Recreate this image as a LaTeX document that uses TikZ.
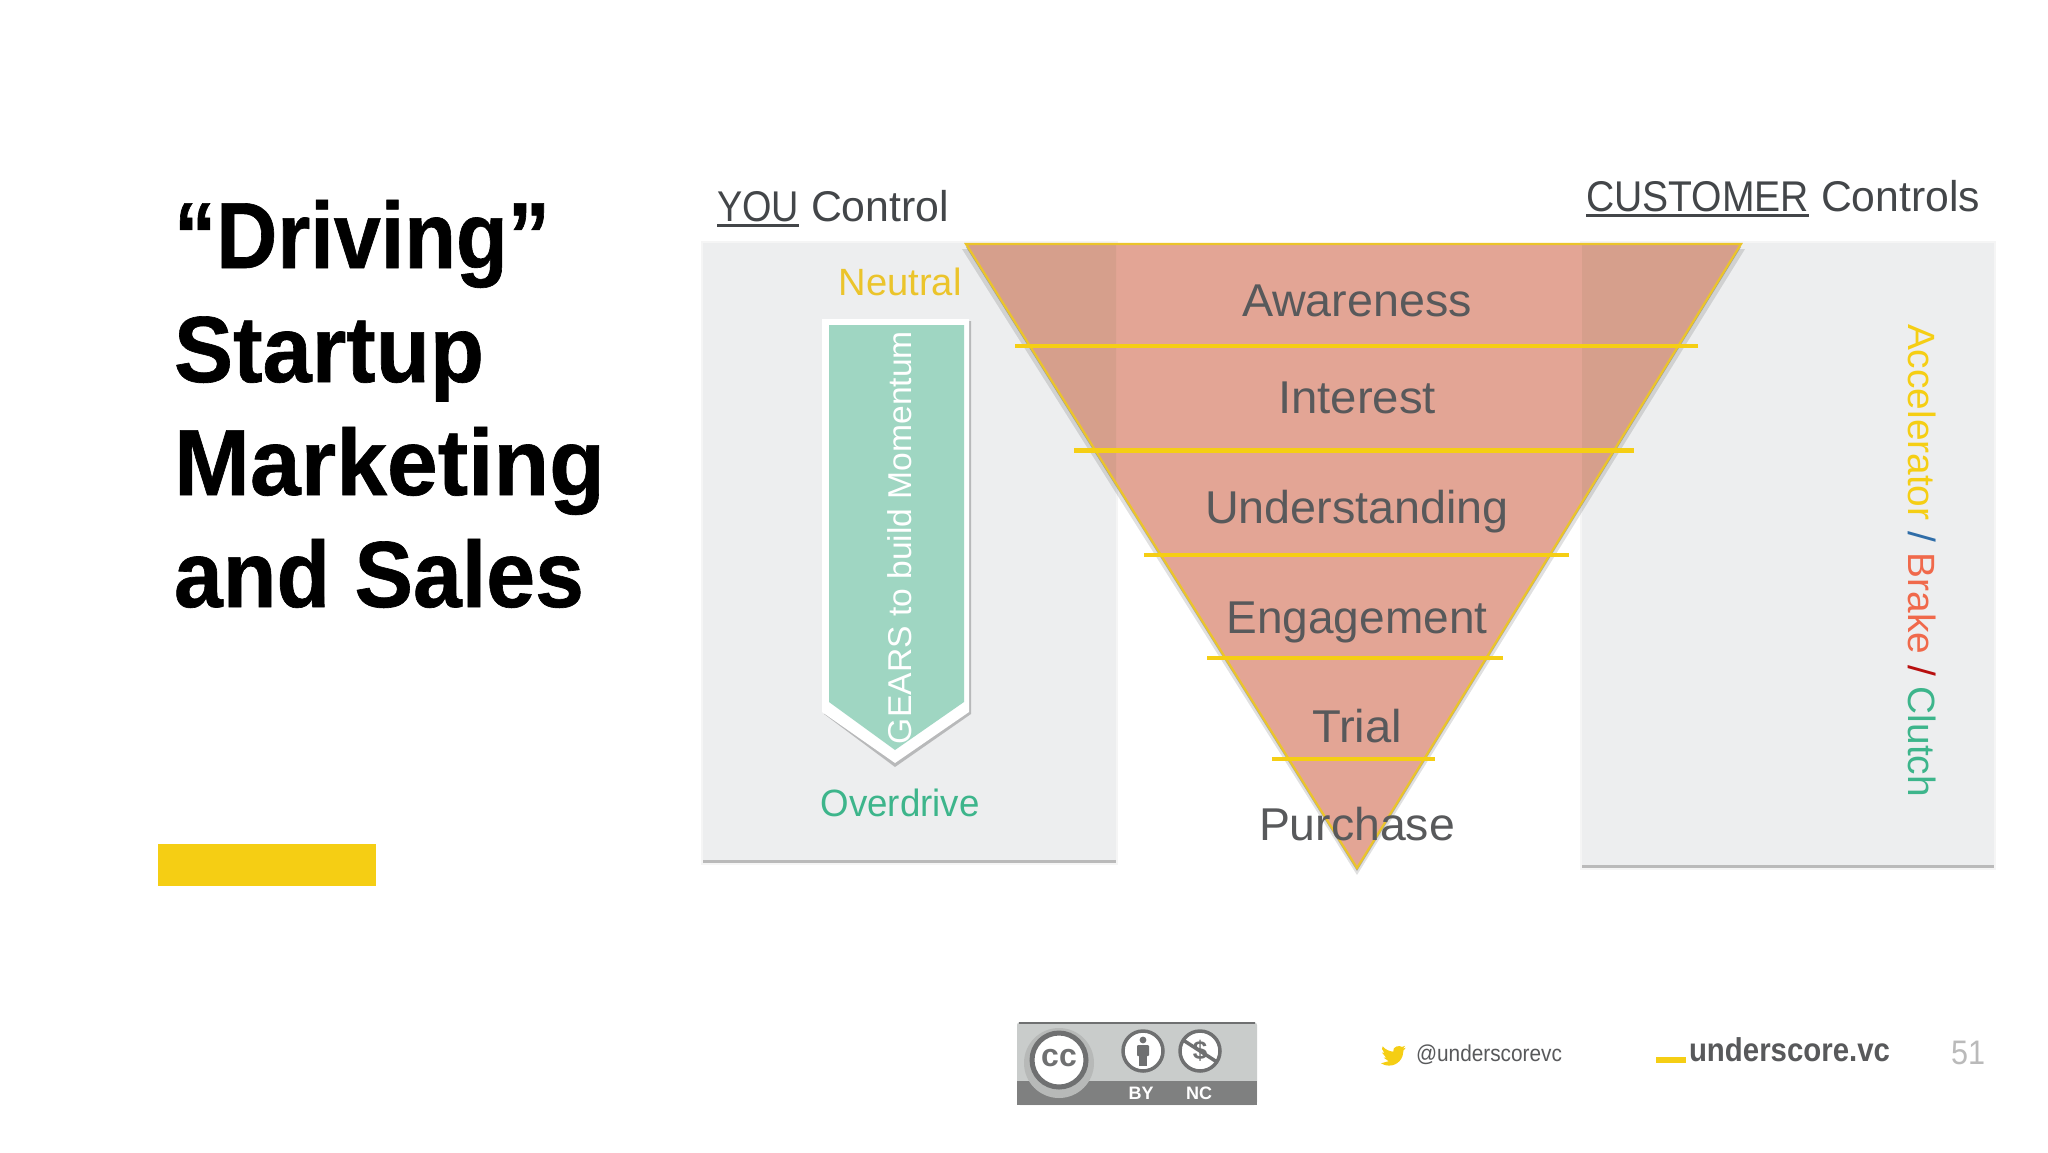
\documentclass[tikz,border=0pt]{standalone}
\usepackage{fontspec}
\usepackage{graphicx}
\setmainfont{Liberation Sans}
\newfontfamily\titlefont[UprightFont={* Bold},UprightFeatures={FakeBold=0.7}]{Liberation Sans}
\usetikzlibrary{calc}
\definecolor{panelc}{HTML}{EDEEEF}
\definecolor{funnelc}{HTML}{E3A595}
\definecolor{funneld}{HTML}{D69F8C}
\definecolor{goldc}{HTML}{F5CE14}
\definecolor{edgec}{HTML}{EBC42B}
\definecolor{tealc}{HTML}{9FD6C2}
\definecolor{greenc}{HTML}{3DB58B}
\definecolor{textc}{HTML}{58595B}
\definecolor{headc}{HTML}{434649}
\definecolor{brakec}{HTML}{F0694B}
\definecolor{slashb}{HTML}{2F6DA8}
\definecolor{slashr}{HTML}{B80F0F}
\definecolor{ccband}{HTML}{7F8080}
\definecolor{ccbody}{HTML}{C9CCCB}
\definecolor{ccdark}{HTML}{6F7071}
\newsavebox\ulbox
\newcommand{\ulword}[1]{\sbox\ulbox{#1}\rlap{\rule[-6pt]{\wd\ulbox}{2.6pt}}\usebox\ulbox}
\newcommand{\fitw}[2]{\resizebox{#1pt}{\height}{#2}}
\tikzset{
  txt/.style={inner sep=0pt,outer sep=0pt},
  stage/.style={txt,text=textc,font=\fontsize{46}{54}\selectfont,anchor=base},
  titleline/.style={txt,anchor=base west,font=\fontsize{94}{113}\titlefont,text=black},
  head/.style={txt,anchor=base west,text=headc,font=\fontsize{43}{52}\selectfont},
  level/.style={line width=4.5pt,draw=goldc},
  panelbox/.style={fill=panelc,draw=none},
  softshadow/.style={fill=black,opacity=#1,draw=none},
  ccring/.style={draw=ccdark,line width=3.5pt,fill=white},
  cctext/.style={txt,text=white,font=\fontsize{18}{20}\selectfont\bfseries}
}
\begin{document}
\begin{tikzpicture}[x=1pt,y=-1pt]
\useasboundingbox (0,0) rectangle (2048,1152);
\fill[white] (0,0) rectangle (2048,1152);

% title
\node[titleline] (t1) at (174,268) {\fitw{376}{“Driving”}};
\node[titleline] (t2) at (174,382) {\fitw{310}{Startup}};
\node[titleline] (t3) at (174,495) {\fitw{431}{Marketing}};
\node[titleline] (t4) at (174,607) {\fitw{410}{and Sales}};
\fill[goldc] (158,844) rectangle (376,886);

% panels
\fill[softshadow=.04] (701,241) rectangle (1118,865);
\fill[softshadow=.24] (703,245) rectangle (1116,862.5);
\fill[panelbox] (703,243) rectangle (1116,860);
\fill[softshadow=.04] (1580,241) rectangle (1996,870);
\fill[softshadow=.24] (1582,245) rectangle (1994,867.5);
\fill[panelbox] (1582,243) rectangle (1994,865);

% headings
\node[head] (you) at (717,221) {\fitw{82}{\ulword{YOU}}\hspace{12pt}\fitw{138}{Control}};
\node[head] (cust) at (1586,211) {\fitw{223}{\ulword{CUSTOMER}}\hspace{12pt}\fitw{159}{Controls}};

% funnel
\fill[black,opacity=.12] (962,249) -- (1745,249) -- (1357,875) -- cycle;
\fill[black,opacity=.25] (966,247) -- (1741,247) -- (1357,871) -- cycle;
\fill[funnelc] (966,244) -- (1741,244) -- (1357,868) -- cycle;
\begin{scope}
  \clip (703,243) rectangle (1116,860);
  \fill[funneld] (966,244) -- (1741,244) -- (1357,868) -- cycle;
\end{scope}
\begin{scope}
  \clip (1582,243) rectangle (1994,865);
  \fill[funneld] (966,244) -- (1741,244) -- (1357,868) -- cycle;
\end{scope}
\draw[edgec,line width=2.2pt,line join=miter] (966,244) -- (1741,244) -- (1357,868) -- cycle;

% funnel levels
\draw[level] (1015,346) -- (1698,346);
\draw[level] (1074,450.5) -- (1634,450.5);
\draw[level] (1144,555) -- (1569,555);
\draw[level] (1207,658) -- (1503,658);
\draw[level] (1272,759) -- (1435,759);

\node[stage] (s1) at (1357,316.5) {\fitw{230}{Awareness}};
\node[stage] (s2) at (1357,413.5) {\fitw{158}{Interest}};
\node[stage] (s3) at (1357,523) {\fitw{304}{Understanding}};
\node[stage] (s4) at (1357,633) {\fitw{261}{Engagement}};
\node[stage] (s5) at (1357,742.5) {\fitw{90}{Trial}};
\node[stage] (s6) at (1357,840.5) {\fitw{196}{Purchase}};

% gears arrow
\fill[black,opacity=.22] (824,321) -- (971,321) -- (971,714) -- (895,767) -- (824,714) -- cycle;
\fill[white] (822,319) -- (969,319) -- (969,712) -- (895,763) -- (822,712) -- cycle;
\fill[tealc] (829,325) -- (964,325) -- (964,702) -- (895,750) -- (829,702) -- cycle;
\node[txt,rotate=90,anchor=west,text=white,font=\fontsize{33}{36}\selectfont] (gears) at (900,744) {\fitw{413}{GEARS to build Momentum}};
\node[txt,text=edgec,font=\fontsize{38}{44}\selectfont] (neutral) at (900,282) {\fitw{123}{Neutral}};
\node[txt,text=greenc,font=\fontsize{38}{44}\selectfont] (over) at (900,803) {\fitw{159}{Overdrive}};

% right label
\node[txt,rotate=-90,anchor=base west,font=\fontsize{38}{44}\selectfont] (pedals) at (1908,324) {\fitw{473}{\textcolor{goldc}{Accelerator} \textcolor{slashb}{/} \textcolor{brakec}{Brake} \textcolor{slashr}{/} \textcolor{greenc}{Clutch}}};

% cc badge
\fill[ccbody,rounded corners=3pt] (1017,1022) rectangle (1257,1105);
\draw[ccdark,line width=1.5pt] (1019,1023) -- (1255,1023);
\fill[ccband] (1017,1081) rectangle (1257,1105);
\fill[ccbody!75!ccband] (1059,1063) circle (35);
\node[circle,ccring,minimum size=54pt,inner sep=0pt,line width=5pt] (cc) at (1059,1060) {};
\node[txt,text=ccdark,font=\fontsize{32}{34}\selectfont\bfseries] (cct) at (1059,1058) {cc};
\node[circle,ccring,minimum size=40pt,inner sep=0pt] (by) at (1143,1051) {};
\fill[ccdark] (1143,1040) circle (3.4);
\fill[ccdark,rounded corners=1pt] (1137,1045) rectangle (1149,1056);
\fill[ccdark] (1139,1055) rectangle (1147,1066);
\node[circle,ccring,minimum size=40pt,inner sep=0pt] (nc) at (1200,1051) {};
\node[txt,text=ccdark,font=\fontsize{26}{30}\selectfont\bfseries] (dollar) at (1200,1051) {\$};
\draw[ccdark,line width=3.5pt] (1183,1040) -- (1217,1062);
\node[cctext] (byt) at (1141,1093) {BY};
\node[cctext] (nct) at (1199,1093) {NC};

% footer
\fill[goldc,shift={(1381,1043)},x=1.04pt,y=-1.04pt]
  (23.95,4.57) -- (21.13,5.35) -- (23.29,2.63)
  .. controls (22.3,3.2) and (21.3,3.6) .. (20.17,3.81)
  .. controls (18.3,1.8) and (10.6,3.2) .. (11.79,8.29)
  .. controls (7.69,8.09) and (4.07,6.13) .. (1.64,3.16)
  -- (0.97,5.64) -- (3.16,9.74) -- (0.93,9.12) -- (0.93,9.18) -- (4.88,14.01) -- (2.67,14.09) -- (7.27,17.51) -- (0,19.54)
  .. controls (3,21.2) and (5,21.75) .. (7.56,21.75)
  .. controls (16.6,21.75) and (21.56,14.25) .. (21.56,7.75)
  -- (21.54,7.11) -- cycle;
\node[txt,anchor=west,text=textc,font=\fontsize{23}{26}\selectfont] (tw) at (1416,1055) {\fitw{146}{@underscorevc}};
\fill[goldc] (1656,1057) rectangle (1686,1063);
\node[txt,anchor=base west,text=textc,font=\fontsize{33}{36}\selectfont\bfseries] (uvc) at (1689,1061) {\fitw{201}{underscore.vc}};
\node[txt,anchor=base east,text=black!27,font=\fontsize{34}{38}\selectfont] (pg) at (1985,1064) {\fitw{34}{51}};
\end{tikzpicture}
\end{document}
